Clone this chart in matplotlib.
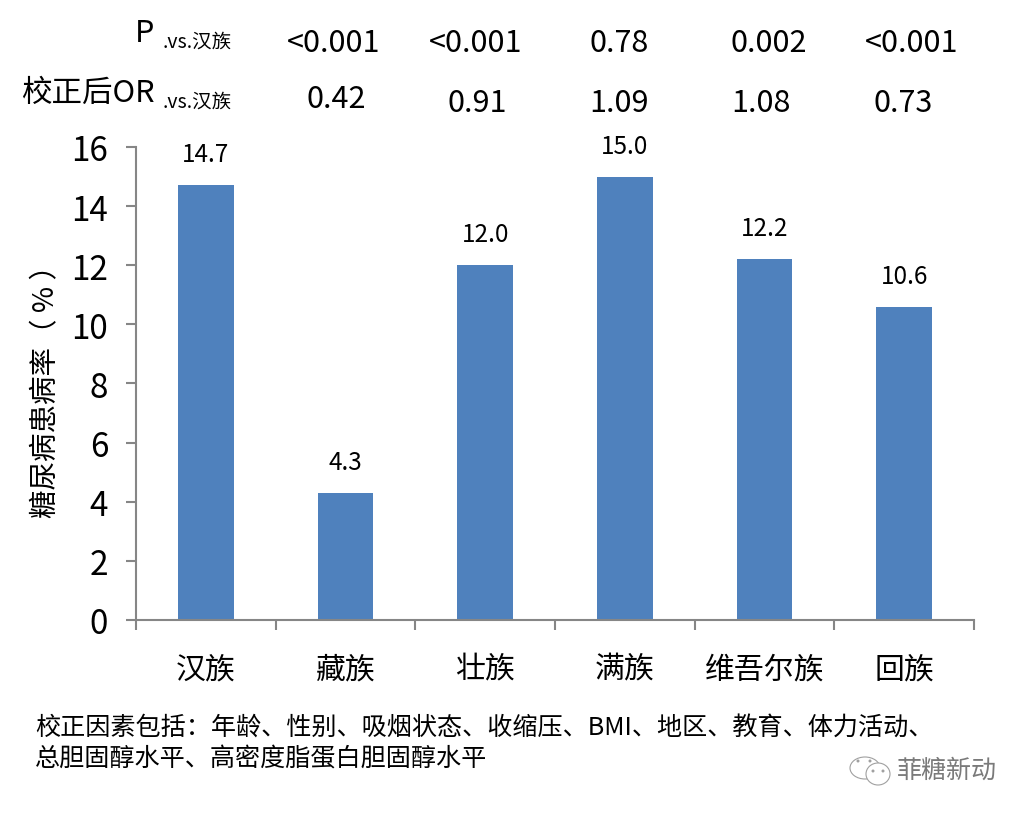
import matplotlib
matplotlib.use('Agg')
import matplotlib.pyplot as plt
from matplotlib.patches import Ellipse
from matplotlib.transforms import ScaledTranslation

plt.rcParams['font.family'] = ['Noto Sans CJK SC', 'DejaVu Sans']

groups = ['汉族', '藏族', '壮族', '满族', '维吾尔族', '回族']
rates = [14.7, 4.3, 12.0, 15.0, 12.2, 10.6]
p_values = ['<0.001', '<0.001', '0.78', '0.002', '<0.001']
or_values = ['0.42', '0.91', '1.09', '1.08', '0.73']
# the P / OR columns sit slightly off the bars in the original
p_x = [334, 476, 619, 769, 912]
p_y = [43, 43, 43, 43, 43]
or_x = [336, 477, 619, 761, 903]
or_y = [100, 104, 104, 104, 104]
note_lines = ['校正因素包括：年龄、性别、吸烟状态、收缩压、BMI、地区、教育、体力活动、',
              '总胆固醇水平、高密度脂蛋白胆固醇水平']

W, H = 1030, 816
fig = plt.figure(figsize=(W / 100, H / 100), dpi=100)
ax = fig.add_axes([136 / W, 1 - 620 / H, (974 - 136) / W, (620 - 147) / H])


def px_text(x, y, s, size, ha='center', color='black'):
    fig.text(x / W, 1 - y / H, s, fontsize=size, ha=ha, va='center', color=color)


x = range(len(groups))
ax.bar(x, rates, width=0.4, color='#4F81BD')
for i in x:
    ax.annotate(f'{rates[i]:.1f}', (i, rates[i]), xytext=(0, 17), textcoords='offset pixels',
                ha='center', va='bottom', fontsize=17.5)

ax.set_xlim(-0.5, 5.5)
ax.set_ylim(0, 16)
ax.set_yticks(range(0, 17, 2))
ax.set_xticks([i - 0.5 for i in range(7)])
ax.set_xticklabels([])
for i in x:
    ax.annotate(groups[i], (i, 0), xytext=(0, -50), textcoords='offset pixels',
                ha='center', va='center', fontsize=21.5)
ax.tick_params(axis='y', length=7, width=1.5, color='#868686', labelsize=24, pad=13)
ax.tick_params(axis='x', length=7, width=1.5, color='#868686')
# y labels hang a little lower in the original
for lab in ax.get_yticklabels():
    lab.set_transform(lab.get_transform() + ScaledTranslation(0, -1 / 100, fig.dpi_scale_trans))
ax.spines['top'].set_visible(False)
ax.spines['right'].set_visible(False)
ax.spines['left'].set_color('#868686')
ax.spines['bottom'].set_color('#868686')
ax.spines['left'].set_linewidth(1.5)
ax.spines['bottom'].set_linewidth(1.5)

px_text(46, 384, '糖尿病患病率（ % ）', 20.5)
fig.texts[-1].set_rotation(90)

px_text(145, 33, 'P', 22)
px_text(197, 42, '.vs.汉族', 14)
px_text(88, 93, '校正后OR', 22)
px_text(197, 102, '.vs.汉族', 14)
for i in range(5):
    px_text(p_x[i], p_y[i], p_values[i], 22)
    px_text(or_x[i], or_y[i], or_values[i], 22)

px_text(35, 729, note_lines[0], 18.1, ha='left')
px_text(35, 759, note_lines[1], 18.1, ha='left')

# watermark: two chat bubbles and the account name
for cx, cy, w, h in [(865, 768, 30, 22), (878, 774, 24, 22)]:
    fig.add_artist(Ellipse((cx / W, 1 - cy / H), w / W, h / H, transform=fig.transFigure,
                           facecolor='white', edgecolor='#a0a0a0', linewidth=0.8))
for cx, cy in [(858, 761), (870, 761), (873, 771), (883, 771)]:
    fig.add_artist(Ellipse((cx / W, 1 - cy / H), 3 / W, 3 / H, transform=fig.transFigure,
                           facecolor='#a0a0a0', edgecolor='none'))
px_text(947, 771, '菲糖新动', 18, color='#7a7a7a')

fig.savefig('out.png', dpi=100)
